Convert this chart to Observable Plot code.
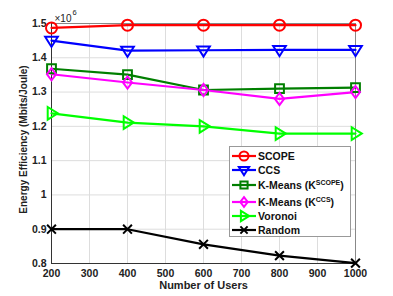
<!DOCTYPE html>
<html>
<head>
<meta charset="utf-8">
<script src="https://cdn.jsdelivr.net/npm/d3@7"></script>
<script src="https://cdn.jsdelivr.net/npm/@observablehq/plot@0.6"></script>
<style>
  body { margin: 0; background: #fff; }
  #wrap { position: relative; width: 393px; height: 296px; font-family: "Liberation Sans", Arial, sans-serif; }
  #legend { position: absolute; left: 229px; top: 146px; width: 122px; height: 91px; border: 1px solid #999; background: #fff; box-sizing: border-box; font-weight: bold; font-size: 10.5px; color: #111; }
  .item { position: absolute; left: 1px; height: 14px; display: flex; align-items: center; white-space: nowrap; }
  .item svg { margin-right: 1px; }
  sup { font-size: 7px; vertical-align: 4px; line-height: 0; }
</style>
</head>
<body>
<div id="wrap"></div>
<script>
const users = [200, 400, 600, 800, 1000];
const seriesNames = ["SCOPE", "CCS", "K-Means (K^SCOPE)", "K-Means (K^CCS)", "Voronoi", "Random"];
const seriesLabels = ["SCOPE", "CCS", "K-Means (K<sup>SCOPE</sup>)", "K-Means (K<sup>CCS</sup>)", "Voronoi", "Random"];
const scope   = [1.487, 1.495, 1.495, 1.495, 1.495];
const ccs     = [1.450, 1.421, 1.422, 1.423, 1.423];
const kmScope = [1.368, 1.351, 1.306, 1.310, 1.313];
const kmCcs   = [1.352, 1.328, 1.306, 1.280, 1.300];
const voronoi = [1.238, 1.211, 1.200, 1.179, 1.179];
const random  = [0.900, 0.900, 0.856, 0.823, 0.801];
const seriesValues = [scope, ccs, kmScope, kmCcs, voronoi, random];
const colors = ["#ff0000", "#0000ff", "#007f00", "#ff00ff", "#00ff00", "#000000"];
const xTicks = [200, 300, 400, 500, 600, 700, 800, 900, 1000];
const yTicks = [0.8, 0.9, 1.0, 1.1, 1.2, 1.3, 1.4, 1.5];

// custom symbols
const triDown = { draw(ctx, size) { const r = Math.sqrt(size / Math.PI) * 1.15; ctx.moveTo(-r, -r * 0.6); ctx.lineTo(r, -r * 0.6); ctx.lineTo(0, r); ctx.closePath(); } };
const triRight = { draw(ctx, size) { const r = Math.sqrt(size / Math.PI) * 1.15; ctx.moveTo(-r * 0.6, -r); ctx.lineTo(r, 0); ctx.lineTo(-r * 0.6, r); ctx.closePath(); } };
const sq = { draw(ctx, size) { const r = Math.sqrt(size / Math.PI) * 0.8; ctx.rect(-r, -r, 2 * r, 2 * r); } };
const dia = { draw(ctx, size) { const r = Math.sqrt(size / Math.PI) * 1.1; ctx.moveTo(0, -r); ctx.lineTo(r * 0.75, 0); ctx.lineTo(0, r); ctx.lineTo(-r * 0.75, 0); ctx.closePath(); } };
const circ = { draw(ctx, size) { const r = Math.sqrt(size / Math.PI); ctx.moveTo(r, 0); ctx.arc(0, 0, r, 0, 2 * Math.PI); } };
const times = { draw(ctx, size) { const r = Math.sqrt(size / Math.PI) * 0.8; ctx.moveTo(-r, -r); ctx.lineTo(r, r); ctx.moveTo(r, -r); ctx.lineTo(-r, r); } };
const symbols = [circ, triDown, sq, dia, triRight, times];

const data = seriesNames.flatMap((s, i) => users.map((u, j) => ({ series: s, users: u, value: seriesValues[i][j] })));

const chart = Plot.plot({
  width: 393, height: 296,
  marginLeft: 51, marginRight: 38, marginTop: 23, marginBottom: 33,
  style: { fontFamily: "Liberation Sans, Arial, sans-serif", fontWeight: "bold", fontSize: "10.5px", color: "#222", background: "#fff" },
  x: { domain: [200, 1000], ticks: xTicks, tickSize: 0, tickPadding: 6, label: null, tickFormat: d => String(d) },
  y: { domain: [0.8, 1.5], ticks: yTicks, tickSize: 0, tickPadding: 5, label: null, tickFormat: d => d3.format("~g")(d) },
  color: { domain: seriesNames, range: colors },
  symbol: { domain: seriesNames, range: symbols },
  marks: [
    Plot.gridX(xTicks, { stroke: "#ddd", strokeOpacity: 1 }),
    Plot.gridY(yTicks, { stroke: "#ddd", strokeOpacity: 1 }),
    Plot.frame({ stroke: "#888" }),
    Plot.ruleY([0.8], { stroke: "#333" }),
    Plot.ruleX([200], { stroke: "#333" }),
    Plot.lineY(data, { x: "users", y: "value", z: "series", stroke: "series", strokeWidth: 2.2 }),
    Plot.dot(data, { x: "users", y: "value", symbol: "series", stroke: "series", fill: "none", r: 5.5, strokeWidth: 2 }),
    Plot.text(["Number of Users"], { frameAnchor: "bottom", dy: 25, fontSize: 11, fontWeight: "bold", fill: "#222" }),
    Plot.text(["Energy Efficiency (Mbits/Joule)"], { frameAnchor: "left", textAnchor: "middle", dx: -28, dy: -4, rotate: -90, fontSize: 10, fontWeight: "bold", fill: "#222" }),
    Plot.text(["×10"], { frameAnchor: "top-left", dy: -9, dx: 3, textAnchor: "start", fontSize: 10, fontWeight: "normal", fill: "#222" }),
    Plot.text(["6"], { frameAnchor: "top-left", dy: -14, dx: 21, textAnchor: "start", fontSize: 7.5, fontWeight: "normal", fill: "#222" })
  ]
});
const wrap = document.getElementById("wrap");
wrap.appendChild(chart);

// legend
const legend = document.createElement("div");
legend.id = "legend";
const rowTops = [2, 16, 31, 48, 62, 76];
seriesNames.forEach((s, i) => {
  const item = document.createElement("div");
  item.className = "item";
  item.style.top = rowTops[i] + "px";
  const svg = d3.create("svg").attr("width", 26).attr("height", 14);
  svg.append("line").attr("x1", 1).attr("x2", 25).attr("y1", 7).attr("y2", 7).attr("stroke", colors[i]).attr("stroke-width", 2.2);
  svg.append("path").attr("transform", "translate(13,7)").attr("d", d3.symbol(symbols[i], Math.PI * 4.5 * 4.5)()).attr("fill", "none").attr("stroke", colors[i]).attr("stroke-width", 2);
  item.appendChild(svg.node());
  const label = document.createElement("span");
  label.innerHTML = seriesLabels[i];
  item.appendChild(label);
  legend.appendChild(item);
});
wrap.appendChild(legend);
</script>
</body>
</html>
